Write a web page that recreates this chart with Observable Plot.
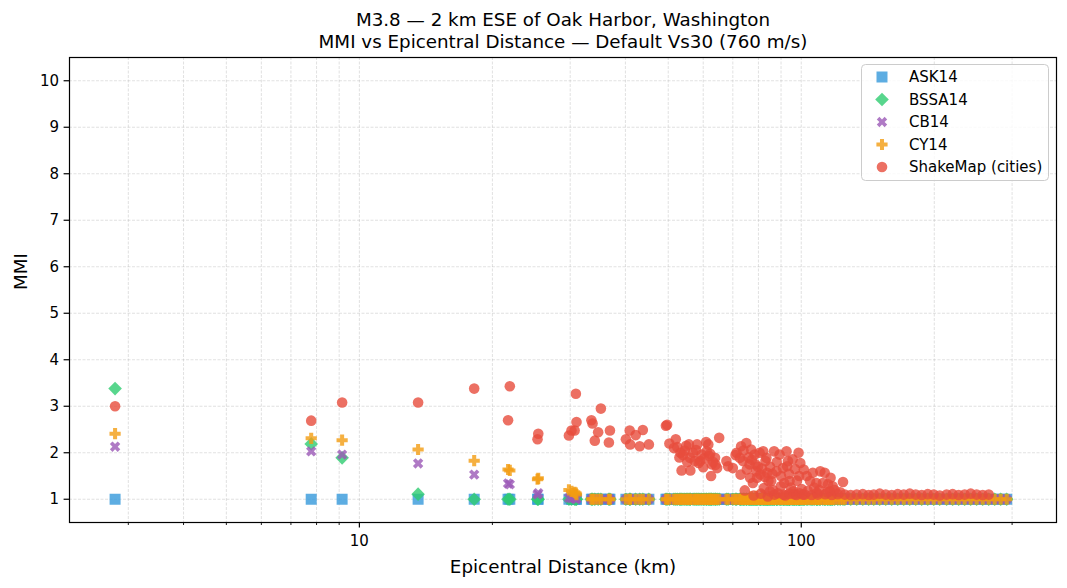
<!DOCTYPE html>
<html>
<head>
<meta charset="utf-8">
<script src="https://cdn.jsdelivr.net/npm/d3@7"></script>
<script src="https://cdn.jsdelivr.net/npm/@observablehq/plot@0.6"></script>
<style>
  html, body { margin: 0; padding: 0; background: #fff; }
  #chart { position: relative; width: 1067px; height: 588px; font-family: "DejaVu Sans", sans-serif; color: #000; }
  #title { position: absolute; left: 69px; width: 988px; top: 9px; text-align: center; font-size: 18.3px; line-height: 22px; }
  #legend { position: absolute; left: 861px; top: 64px; }
  #chart svg { display: block; }
</style>
</head>
<body>
<div id="chart">
  <div id="title">M3.8 — 2 km ESE of Oak Harbor, Washington<br>MMI vs Epicentral Distance — Default Vs30 (760 m/s)</div>
</div>
<script>
// Epicentral distance of each city (km)
const distKm = [
  2.8, 7.78, 9.14, 13.58, 18.19, 21.7, 21.9, 25.3, 25.4,
  29.8, 30.2, 30.7, 30.9, 31.0,
  33.5, 33.7, 34.1, 34.7, 35.2, 36.7, 36.9,
  40.1, 40.9, 41.0, 42.2, 43.1, 43.8, 45.2,
  49.4, 49.7, 50.3, 52.0, 52.4, 53.0, 53.6, 54.5, 55.7, 56.0,
  56.1, 56.9, 57.4, 58.1, 59.0, 59.5, 60.0, 60.9, 61.1, 61.6,
  61.9, 62.5, 62.7, 63.8, 64.5, 65.2, 67.7, 68.3, 70.0,
  71.4, 72.6, 72.9, 73.1, 73.8, 74.5, 75.1, 75.3, 76.4, 76.6,
  77.0, 77.7, 78.0, 78.4, 78.8, 79.1, 79.4, 80.5, 80.8, 81.0,
  82.0, 82.3, 83.0, 83.4, 83.7, 84.0, 84.3, 84.9, 85.5, 86.8,
  87.0, 87.9, 88.5, 89.3, 89.9, 90.9, 91.2, 92.0, 92.6, 92.9,
  93.3, 94.0, 94.1, 95.6, 95.9, 96.5, 97.5, 98.6, 98.9, 99.2,
  99.5,
  100.8, 101.3, 101.8, 102.9, 104.7, 105.6, 106.2, 108.2, 108.5, 109.0,
  110.4, 111.9, 113.0, 113.3, 115.0, 116.1, 116.5, 117.3, 117.8, 121.0,
  124.3, 125.5, 129.4,
  133.5, 137.8, 142.1, 145.9, 150.5, 155.3, 160.2, 165.3, 170.6, 176.0,
  181.6, 187.3, 193.3, 199.4, 205.7, 213.3, 220.1, 227.1, 234.3, 241.8,
  249.4, 257.4, 265.6,
  274.0, 282.7, 291.7,
  51.5, 53.3, 54.0, 54.9, 55.2, 57.8, 58.6, 60.3, 62.2, 63.2, 64.0,
  71.0, 74.0, 76.0, 77.3, 79.8, 81.5, 82.7, 85.0, 86.0, 88.0,
  90.0, 91.5, 93.8, 96.8, 97.8,
  86.3, 94.8, 100.2, 103.5, 107.0, 110.0, 114.5, 119.0, 122.5
];

// ShakeMap MMI at each city (null where the city lies outside the grid)
const shakeMapMMI = [
  3.0, 2.69, 3.08, 3.08, 3.38, 2.70, 3.43, 2.29, 2.41,
  2.37, 2.48, 2.48, 3.27, 2.66,
  2.70, 2.63, 2.26, 2.44, 2.95, 2.22, 2.48,
  2.29, 2.48, 2.18, 2.38, 2.14, 2.49, 2.18,
  2.58, 2.60, 2.20, 2.29, 2.12, 1.90, 1.62, 2.05, 2.18, 1.89,
  1.62, 2.00, 1.82, 2.18, 1.82, 1.96, 1.69, 2.23, 2.03, 2.18,
  1.93, 1.50, 1.75, 1.89, 1.67, 2.32, 1.82, 1.71, 1.67,
  2.00, 1.89, 1.53, 2.14, 1.82, 1.19, 2.21, 1.64, 1.75, 1.46,
  2.07, 1.35, 1.08, 1.96, 1.75, 1.60, 1.46, 2.00, 1.53, 1.12,
  2.03, 1.24, 1.82, 1.89, 1.57, 1.06, 1.39, 1.17, 1.39, 2.03,
  1.10, 1.60, 1.13, 1.96, 1.28, 1.67, 1.10, 1.08, 2.03, 1.71,
  1.82, 1.12, 1.39, 1.86, 1.17, 1.11, 1.09, 2.00, 1.50, 1.13,
  1.78,
  1.10, 1.64, 1.10, 1.50, 1.39, 1.09, 1.57, 1.35, 1.14, 1.10,
  1.60, 1.35, 1.57, 1.11, 1.32, 1.17, 1.46, 1.09, 1.28, 1.11,
  1.37, 1.10, 1.09,
  1.10, 1.11, 1.09, 1.10, 1.12, 1.10, 1.09, 1.11, 1.10, 1.12,
  1.10, 1.09, 1.11, 1.10, 1.08, 1.10, 1.11, 1.09, 1.10, 1.12,
  1.10, 1.09, 1.10,
  null, null, null,
  2.10, 2.00, 1.95, 2.15, 1.80, 2.06, 1.78, 1.88, 1.98, 1.80, 1.74,
  1.95, 2.05, 1.90, 1.85, 1.70, 1.66, 1.48, 1.70, 1.55, 1.80,
  1.50, 1.35, 1.55, 1.65, 1.40,
  1.20, 1.25, 1.22, 1.18, 1.25, 1.20, 1.15, 1.20, 1.15
];

// Ground-motion model predictions converted to MMI
const askMMI = [
  1, 1, 1, 1, 1, 1, 1, 1, 1,
  1, 1, 1, 1, 1,
  1, 1, 1, 1, 1, 1, 1,
  1, 1, 1, 1, 1, 1, 1,
  1, 1, 1, 1, 1, 1, 1, 1, 1, 1,
  1, 1, 1, 1, 1, 1, 1, 1, 1, 1,
  1, 1, 1, 1, 1, 1, 1, 1, 1,
  1, 1, 1, 1, 1, 1, 1, 1, 1, 1,
  1, 1, 1, 1, 1, 1, 1, 1, 1, 1,
  1, 1, 1, 1, 1, 1, 1, 1, 1, 1,
  1, 1, 1, 1, 1, 1, 1, 1, 1, 1,
  1, 1, 1, 1, 1, 1, 1, 1, 1, 1,
  1,
  1, 1, 1, 1, 1, 1, 1, 1, 1, 1,
  1, 1, 1, 1, 1, 1, 1, 1, 1, 1,
  1, 1, 1,
  1, 1, 1, 1, 1, 1, 1, 1, 1, 1,
  1, 1, 1, 1, 1, 1, 1, 1, 1, 1,
  1, 1, 1,
  1, 1, 1,
  1, 1, 1, 1, 1, 1, 1, 1, 1, 1, 1,
  1, 1, 1, 1, 1, 1, 1, 1, 1, 1,
  1, 1, 1, 1, 1,
  1, 1, 1, 1, 1, 1, 1, 1, 1
];

const bssaMMI = [
  3.38, 2.19, 1.89, 1.11, 1, 1, 1, 1, 1,
  1, 1, 1, 1, 1,
  1, 1, 1, 1, 1, 1, 1,
  1, 1, 1, 1, 1, 1, 1,
  1, 1, 1, 1, 1, 1, 1, 1, 1, 1,
  1, 1, 1, 1, 1, 1, 1, 1, 1, 1,
  1, 1, 1, 1, 1, 1, 1, 1, 1,
  1, 1, 1, 1, 1, 1, 1, 1, 1, 1,
  1, 1, 1, 1, 1, 1, 1, 1, 1, 1,
  1, 1, 1, 1, 1, 1, 1, 1, 1, 1,
  1, 1, 1, 1, 1, 1, 1, 1, 1, 1,
  1, 1, 1, 1, 1, 1, 1, 1, 1, 1,
  1,
  1, 1, 1, 1, 1, 1, 1, 1, 1, 1,
  1, 1, 1, 1, 1, 1, 1, 1, 1, 1,
  1, 1, 1,
  1, 1, 1, 1, 1, 1, 1, 1, 1, 1,
  1, 1, 1, 1, 1, 1, 1, 1, 1, 1,
  1, 1, 1,
  1, 1, 1,
  1, 1, 1, 1, 1, 1, 1, 1, 1, 1, 1,
  1, 1, 1, 1, 1, 1, 1, 1, 1, 1,
  1, 1, 1, 1, 1,
  1, 1, 1, 1, 1, 1, 1, 1, 1
];

const cbMMI = [
  2.13, 2.03, 1.96, 1.77, 1.53, 1.34, 1.32, 1.10, 1.13,
  1.03, 1.02, 1.02, 1.01, 1.01,
  1, 1, 1, 1, 1, 1, 1,
  1, 1, 1, 1, 1, 1, 1,
  1, 1, 1, 1, 1, 1, 1, 1, 1, 1,
  1, 1, 1, 1, 1, 1, 1, 1, 1, 1,
  1, 1, 1, 1, 1, 1, 1, 1, 1,
  1, 1, 1, 1, 1, 1, 1, 1, 1, 1,
  1, 1, 1, 1, 1, 1, 1, 1, 1, 1,
  1, 1, 1, 1, 1, 1, 1, 1, 1, 1,
  1, 1, 1, 1, 1, 1, 1, 1, 1, 1,
  1, 1, 1, 1, 1, 1, 1, 1, 1, 1,
  1,
  1, 1, 1, 1, 1, 1, 1, 1, 1, 1,
  1, 1, 1, 1, 1, 1, 1, 1, 1, 1,
  1, 1, 1,
  1, 1, 1, 1, 1, 1, 1, 1, 1, 1,
  1, 1, 1, 1, 1, 1, 1, 1, 1, 1,
  1, 1, 1,
  1, 1, 1,
  1, 1, 1, 1, 1, 1, 1, 1, 1, 1, 1,
  1, 1, 1, 1, 1, 1, 1, 1, 1, 1,
  1, 1, 1, 1, 1,
  1, 1, 1, 1, 1, 1, 1, 1, 1
];

const cyMMI = [
  2.41, 2.31, 2.27, 2.07, 1.83, 1.64, 1.62, 1.43, 1.45,
  1.20, 1.17, 1.15, 1.13, 1.10,
  1, 1, 1, 1, 1, 1, 1,
  1, 1, 1, 1, 1, 1, 1,
  1, 1, 1, 1, 1, 1, 1, 1, 1, 1,
  1, 1, 1, 1, 1, 1, 1, 1, 1, 1,
  1, 1, 1, 1, 1, 1, 1, 1, 1,
  1, 1, 1, 1, 1, 1, 1, 1, 1, 1,
  1.05, 1, 1, 1, 1, 1.06, 1, 1, 1, 1,
  1.08, 1, 1, 1, 1, 1, 1, 1.05, 1, 1,
  1, 1.06, 1, 1, 1, 1.04, 1, 1, 1, 1,
  1, 1, 1, 1, 1, 1, 1, 1, 1, 1,
  1,
  1, 1, 1, 1, 1, 1, 1, 1, 1, 1,
  1, 1, 1, 1, 1, 1, 1, 1, 1, 1,
  1, 1, 1,
  1, 1, 1, 1, 1, 1, 1, 1, 1, 1,
  1, 1, 1, 1, 1, 1, 1, 1, 1, 1,
  1, 1, 1,
  1, 1, 1,
  1, 1, 1, 1, 1, 1, 1, 1, 1, 1, 1,
  1, 1, 1, 1, 1, 1, 1, 1, 1, 1,
  1, 1, 1, 1, 1,
  1, 1, 1, 1, 1, 1, 1, 1, 1
];

const seriesNames = ["ASK14", "BSSA14", "CB14", "CY14", "ShakeMap (cities)"];
const seriesColors = ["#3498db", "#2ecc71", "#9b59b6", "#f39c12", "#e74c3c"];
const yTicks = [1, 2, 3, 4, 5, 6, 7, 8, 9, 10];
const xMajorTicks = [10, 100];
const xMinorTicks = [3, 4, 5, 6, 7, 8, 9, 20, 30, 40, 50, 60, 70, 80, 90, 200, 300];

// Filled marker shapes; r is recovered from the symbol area
const radiusOf = (size) => Math.sqrt(size / Math.PI);
const squareSym = { draw(ctx, size) { const r = radiusOf(size);
  ctx.moveTo(-r, -r); ctx.lineTo(r, -r); ctx.lineTo(r, r); ctx.lineTo(-r, r); ctx.closePath(); } };
const diamondSym = { draw(ctx, size) { const r = radiusOf(size);
  ctx.moveTo(0, -r); ctx.lineTo(r, 0); ctx.lineTo(0, r); ctx.lineTo(-r, 0); ctx.closePath(); } };
const plusSym = { draw(ctx, size) { const r = radiusOf(size), w = r * 0.36;
  const pts = [[-w,-r],[w,-r],[w,-w],[r,-w],[r,w],[w,w],[w,r],[-w,r],[-w,w],[-r,w],[-r,-w],[-w,-w]];
  pts.forEach(([x, y], i) => i ? ctx.lineTo(x, y) : ctx.moveTo(x, y)); ctx.closePath(); } };
const xSym = { draw(ctx, size) { const u = radiusOf(size) / 2;
  const pts = [[-1,-2],[0,-1],[1,-2],[2,-1],[1,0],[2,1],[1,2],[0,1],[-1,2],[-2,1],[-1,0],[-2,-1]];
  pts.forEach(([x, y], i) => i ? ctx.lineTo(x * u, y * u) : ctx.moveTo(x * u, y * u)); ctx.closePath(); } };

const seriesSymbols = [squareSym, diamondSym, xSym, plusSym, d3.symbolCircle];
const seriesRadii = [5.5, 6.8, 5.2, 5.6, 5.3];
const seriesValues = [askMMI, bssaMMI, cbMMI, cyMMI, shakeMapMMI];

const rowsFor = (vals) => distKm.map((d, i) => ({ d, v: vals[i] })).filter((r) => r.v != null);

const gridStyle = { stroke: "#b0b0b0", strokeOpacity: 0.55, strokeWidth: 0.7, strokeDasharray: "3,1.5" };

const chart = Plot.plot({
  width: 1067,
  height: 588,
  marginLeft: 69,
  marginRight: 11,
  marginTop: 57,
  marginBottom: 66,
  style: { fontFamily: "DejaVu Sans, sans-serif", fontSize: "15px", background: "white", color: "black" },
  x: { type: "log", domain: [2.208, 378.1] },
  y: { domain: [0.5, 10.5] },
  marks: [
    Plot.ruleX([...xMinorTicks, ...xMajorTicks], { ...gridStyle }),
    Plot.ruleY(yTicks, { ...gridStyle }),
    ...seriesValues.map((vals, k) => Plot.dot(rowsFor(vals), {
      x: "d", y: "v",
      symbol: seriesSymbols[k], r: seriesRadii[k],
      fill: seriesColors[k], fillOpacity: 0.8, stroke: "none"
    })),
    Plot.frame({ stroke: "black", strokeWidth: 1.2 }),
    Plot.axisX(xMinorTicks, { tickSize: 3, strokeWidth: 0.9, tickFormat: () => "", label: null }),
    Plot.axisX(xMajorTicks, { tickSize: 5.4, strokeWidth: 1.2, tickPadding: 7, tickFormat: (d) => String(d), fontSize: 15, label: null }),
    Plot.axisY(yTicks, { tickSize: 5.4, strokeWidth: 1.2, tickPadding: 5, tickFormat: (d) => String(d), fontSize: 15, label: null }),
    Plot.text(["Epicentral Distance (km)"], { frameAnchor: "bottom", dy: 50, fontSize: 18.3 }),
    Plot.text(["MMI"], { frameAnchor: "left", dx: -48, rotate: -90, fontSize: 18.3 })
  ]
});

const container = document.getElementById("chart");
container.insertBefore(chart, container.firstChild);

// Legend box in the upper right of the axes
const legend = d3.select(container).append("svg")
  .attr("id", "legend").attr("width", 189).attr("height", 118);
legend.append("rect")
  .attr("x", 0.5).attr("y", 0.5).attr("width", 187).attr("height", 116).attr("rx", 4)
  .attr("fill", "white").attr("fill-opacity", 0.8).attr("stroke", "#cccccc").attr("stroke-width", 1);
seriesNames.forEach((name, k) => {
  const cy = 13 + k * 22.5;
  const r = seriesRadii[k];
  legend.append("path")
    .attr("transform", `translate(21,${cy})`)
    .attr("d", d3.symbol().type(seriesSymbols[k]).size(Math.PI * r * r)())
    .attr("fill", seriesColors[k]).attr("fill-opacity", 0.8);
  legend.append("text")
    .attr("x", 48).attr("y", cy).attr("dy", "0.35em")
    .attr("font-family", "DejaVu Sans, sans-serif").attr("font-size", 15)
    .text(name);
});
</script>
</body>
</html>
